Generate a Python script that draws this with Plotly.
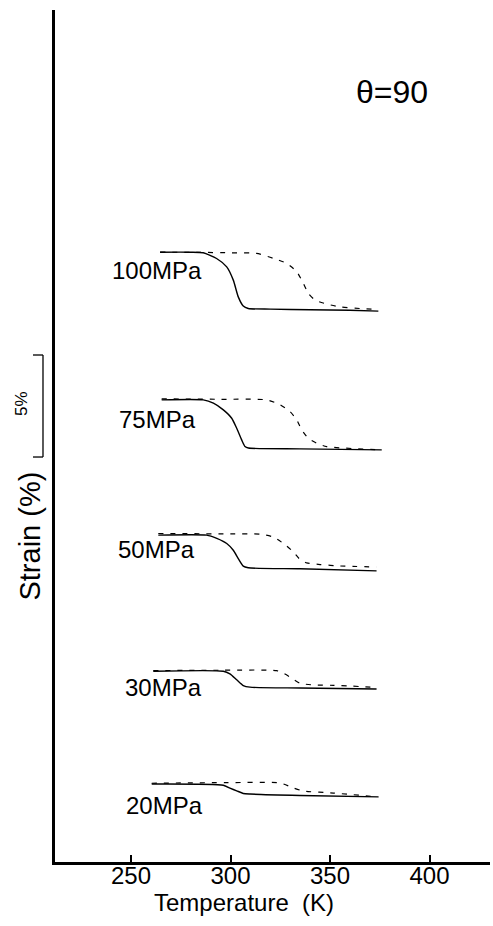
import plotly.graph_objects as go

# ---- data (temperature in K, transformation strain in % relative to each curve's baseline) ----
stress_labels = ["100MPa", "75MPa", "50MPa", "30MPa", "20MPa"]
baseline_offsets = [27.1, 20.3, 14.4, 8.5, 3.2]   # vertical offset (%) of each curve pair

t_solid_100 = [264.6, 280.0, 286.3, 293.0, 298.1, 301.4, 303.9, 306.4, 308.9, 320.0, 340.0, 360.0, 374.3]
s_solid_100 = [2.79, 2.79, 2.76, 2.48, 2.07, 1.42, 0.60, 0.15, 0.03, 0.0, -0.03, -0.06, -0.10]
t_dash_100 = [264.6, 285.0, 300.0, 313.1, 321.5, 328.2, 333.3, 336.6, 339.1, 342.5, 348.3, 355.0, 365.0, 374.3]
s_dash_100 = [2.79, 2.78, 2.76, 2.73, 2.49, 2.24, 1.83, 1.26, 0.77, 0.44, 0.25, 0.11, 0.03, -0.01]

t_solid_75 = [265.4, 286.3, 291.4, 296.4, 300.6, 303.1, 305.6, 307.3, 309.0, 334.9, 376.0]
s_solid_75 = [2.35, 2.35, 2.19, 1.86, 1.45, 0.96, 0.39, 0.06, -0.01, -0.05, -0.10]
t_dash_75 = [265.4, 295.0, 318.2, 324.9, 329.9, 333.3, 335.8, 339.1, 343.3, 348.3, 376.0]
s_dash_75 = [2.40, 2.38, 2.35, 2.11, 1.78, 1.37, 0.88, 0.47, 0.23, 0.06, -0.10]

t_solid_50 = [263.7, 288.0, 293.1, 298.1, 301.4, 303.9, 306.4, 308.9, 334.9, 373.4]
s_solid_50 = [1.62, 1.62, 1.46, 1.21, 0.88, 0.47, 0.10, 0.02, -0.03, -0.13]
t_dash_50 = [263.7, 300.0, 314.8, 321.5, 326.6, 331.6, 334.9, 338.3, 345.0, 355.0, 373.4]
s_dash_50 = [1.70, 1.68, 1.67, 1.53, 1.21, 0.80, 0.43, 0.26, 0.18, 0.11, 0.06]

t_solid_30 = [261.2, 296.4, 299.7, 303.1, 306.4, 309.8, 334.9, 373.4]
s_solid_30 = [0.85, 0.85, 0.72, 0.43, 0.15, 0.07, 0.03, -0.02]
t_dash_30 = [261.2, 296.4, 323.2, 326.6, 330.7, 334.9, 341.6, 351.7, 373.4]
s_dash_30 = [0.88, 0.90, 0.88, 0.75, 0.52, 0.26, 0.18, 0.16, 0.06]

t_solid_20 = [260.4, 296.4, 299.7, 303.1, 306.4, 309.8, 334.9, 374.3]
s_solid_20 = [0.62, 0.56, 0.42, 0.29, 0.16, 0.13, 0.06, -0.01]
t_dash_20 = [260.4, 298.1, 324.9, 331.6, 336.6, 351.7, 374.3]
s_dash_20 = [0.66, 0.69, 0.67, 0.43, 0.28, 0.18, -0.01]

solid_t = [t_solid_100, t_solid_75, t_solid_50, t_solid_30, t_solid_20]
solid_s = [s_solid_100, s_solid_75, s_solid_50, s_solid_30, s_solid_20]
dash_t = [t_dash_100, t_dash_75, t_dash_50, t_dash_30, t_dash_20]
dash_s = [s_dash_100, s_dash_75, s_dash_50, s_dash_30, s_dash_20]

# label anchor positions (data coords)
label_t = [263.1, 263.1, 262.6, 266.1, 266.6]
label_y = [28.97, 21.67, 15.34, 8.53, 2.79]

x_ticks = [250, 300, 350, 400]
x_range = [211.8, 430.4]
y_range = [0, 41.76]
scale_bar_pct = 5
scale_bar_y0 = 19.85

FONT = "Liberation Sans, Arial, Helvetica, sans-serif"

fig = go.Figure()
for i in range(len(stress_labels)):
    off = baseline_offsets[i]
    fig.add_trace(go.Scatter(
        x=dash_t[i], y=[v + off for v in dash_s[i]], mode="lines",
        line=dict(color="black", width=1.2, dash="5px,7px", shape="spline", smoothing=0.6),
        showlegend=False, hoverinfo="skip"))
    fig.add_trace(go.Scatter(
        x=solid_t[i], y=[v + off for v in solid_s[i]], mode="lines",
        line=dict(color="black", width=1.4, shape="spline", smoothing=0.6),
        showlegend=False, hoverinfo="skip"))

annotations = []
for lab, tx, ty in zip(stress_labels, label_t, label_y):
    annotations.append(dict(x=tx, y=ty, xref="x", yref="y", text=lab, showarrow=False,
                            font=dict(family=FONT, size=24, color="black"),
                            xanchor="center", yanchor="middle"))

annotations.append(dict(x=381.2, y=37.75, xref="x", yref="y", text="θ=90", showarrow=False,
                        font=dict(family=FONT, size=32, color="black"),
                        xanchor="center", yanchor="middle"))
annotations.append(dict(x=307, y=-0.047, xref="x", yref="paper", text="Temperature  (K)",
                        showarrow=False, font=dict(family=FONT, size=24, color="black"),
                        xanchor="center", yanchor="middle"))
annotations.append(dict(x=-0.0575, y=16.0, xref="paper", yref="y", text="Strain (%)",
                        showarrow=False, textangle=-90,
                        font=dict(family=FONT, size=29, color="black"),
                        xanchor="center", yanchor="middle"))
annotations.append(dict(x=-0.0759, y=scale_bar_y0 + scale_bar_pct / 2 + 0.15, xref="paper", yref="y",
                        text="5%", showarrow=False, textangle=-90,
                        font=dict(family=FONT, size=17, color="black"),
                        xanchor="center", yanchor="middle"))

span = y_range[1] - y_range[0]
py0 = (scale_bar_y0 - y_range[0]) / span
py1 = (scale_bar_y0 + scale_bar_pct - y_range[0]) / span
bx = -0.0276
bx_left = -0.0506
shapes = [
    dict(type="line", xref="paper", yref="paper", x0=bx, x1=bx, y0=py0, y1=py1,
         line=dict(color="black", width=1.3)),
    dict(type="line", xref="paper", yref="paper", x0=bx_left, x1=bx, y0=py0, y1=py0,
         line=dict(color="black", width=1.3)),
    dict(type="line", xref="paper", yref="paper", x0=bx_left, x1=bx, y0=py1, y1=py1,
         line=dict(color="black", width=1.3)),
]

fig.update_layout(
    width=493, height=926,
    margin=dict(l=55, r=3, t=10, b=64),
    paper_bgcolor="white", plot_bgcolor="white",
    annotations=annotations, shapes=shapes,
    font=dict(family=FONT, color="black"),
)
fig.update_xaxes(range=x_range, tickvals=x_ticks, ticktext=[str(v) for v in x_ticks],
                 ticks="inside", ticklen=7, tickwidth=1.5, tickcolor="black",
                 ticklabelstandoff=-10,
                 showline=True, linecolor="black", linewidth=3, mirror=False,
                 showgrid=False, zeroline=False,
                 tickfont=dict(family=FONT, size=24, color="black"))
fig.update_yaxes(range=y_range, showticklabels=False, ticks="",
                 showline=True, linecolor="black", linewidth=3,
                 showgrid=False, zeroline=False)

fig.write_html("out.html")
